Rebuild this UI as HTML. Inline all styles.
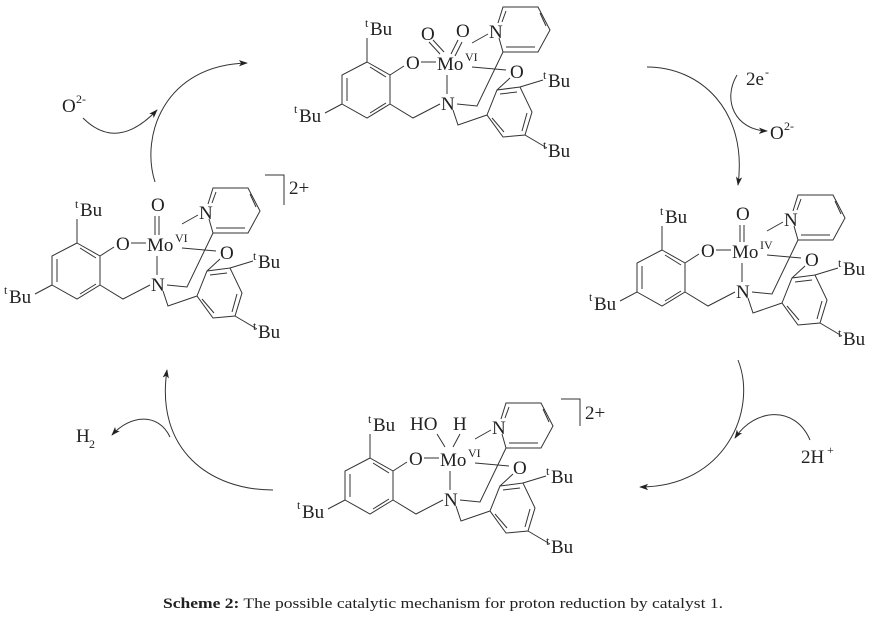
<!DOCTYPE html>
<html><head><meta charset="utf-8"><style>
html,body{margin:0;padding:0;background:#fff;width:882px;height:618px;overflow:hidden}
svg{display:block}
text{font-family:"Liberation Serif","Times New Roman",serif;fill:#222}
.a{font-size:19px}
.s{font-size:12px}
</style></head><body>
<svg width="882" height="618" viewBox="0 0 882 618" xmlns="http://www.w3.org/2000/svg" font-family="Liberation Serif, serif">
<defs>
<g id="sk" fill="none" stroke="#333" stroke-width="1">
<path d="M77,38 L77,62"/>
<path d="M77,62 L100,75 L100,104 L77,118 L52,104 L52,75 Z"/>
<path d="M57,78 L57,101 M80,67 L96,77 M80,113 L96,103"/>
<path d="M100,75 L114,66 M131,62 L146,62 M157,75 L157,94"/>
<path d="M100,104 L123,118 L150,104"/>
<path d="M167,104 L187,106 L213,52"/>
<path d="M163,110 L168,125 L197,115"/>
<path d="M197,115 L207,90 L230,87 L242,112 L235,135 L213,137 Z"/>
<path d="M202,118 L214,132 M210,94 L227,92 M237,113 L232,131"/>
<path d="M207,90 L220,78 M182,67 L216,70"/>
<path d="M230,87 L253,80 M235,135 L257,148 M52,104 L35,113"/>
<path d="M208,23 L213,7 L248,7 L260,30 L248,52 L213,52 L209,38"/>
<path d="M216,11 L212,22 M250,13 L256,26 M245,47 L216,47"/>
<path d="M182,43 L198,34"/>
</g>
<marker id="ah" viewBox="0 0 10 10" refX="9" refY="5" markerWidth="9" markerHeight="9" orient="auto" markerUnits="userSpaceOnUse"><path d="M0,1.5 L10,5 L0,8.5 L2.5,5 Z" fill="#222"/></marker>
</defs>

<!-- TOP -->
<g transform="translate(290,0)">
<use href="#sk"/>
<path d="M150,54 L139,42 M154,52 L143,40 M161,54 L168,40 M165,56 L172,42" stroke="#333" fill="none"/>
<text class="s" x="75" y="27">t</text><text class="a" x="80" y="35">Bu</text>
<text class="a" x="116" y="69">O</text>
<text class="a" x="147" y="70">Mo</text><text class="s" x="175" y="61">VI</text>
<text class="a" x="131" y="40">O</text><text class="a" x="166" y="37">O</text>
<text class="a" x="151" y="110">N</text>
<text class="a" x="199" y="38">N</text>
<text class="a" x="220" y="78">O</text>
<text class="s" x="253" y="79">t</text><text class="a" x="258" y="87">Bu</text>
<text class="s" x="253" y="149">t</text><text class="a" x="258" y="157">Bu</text>
<text class="s" x="4" y="113">t</text><text class="a" x="9" y="122">Bu</text>
</g>

<!-- RIGHT -->
<g transform="translate(585,188)">
<use href="#sk"/>
<path d="M155,37 L155,54 M159,37 L159,54" stroke="#333" fill="none"/>
<text class="s" x="75" y="27">t</text><text class="a" x="80" y="35">Bu</text>
<text class="a" x="116" y="69">O</text>
<text class="a" x="147" y="70">Mo</text><text class="s" x="175" y="61">IV</text>
<text class="a" x="151" y="32">O</text>
<text class="a" x="151" y="110">N</text>
<text class="a" x="199" y="38">N</text>
<text class="a" x="220" y="78">O</text>
<text class="s" x="253" y="79">t</text><text class="a" x="258" y="87">Bu</text>
<text class="s" x="253" y="149">t</text><text class="a" x="258" y="157">Bu</text>
<text class="s" x="4" y="113">t</text><text class="a" x="9" y="122">Bu</text>
</g>

<!-- LEFT -->
<g transform="translate(0,181)">
<use href="#sk"/>
<path d="M155,35 L155,54 M159,35 L159,54" stroke="#333" fill="none"/>
<text class="s" x="75" y="27">t</text><text class="a" x="80" y="35">Bu</text>
<text class="a" x="116" y="69">O</text>
<text class="a" x="147" y="70">Mo</text><text class="s" x="175" y="61">VI</text>
<text class="a" x="151" y="30">O</text>
<text class="a" x="151" y="110">N</text>
<text class="a" x="199" y="38">N</text>
<text class="a" x="220" y="78">O</text>
<text class="s" x="253" y="79">t</text><text class="a" x="258" y="87">Bu</text>
<text class="s" x="253" y="149">t</text><text class="a" x="258" y="157">Bu</text>
<text class="s" x="4" y="113">t</text><text class="a" x="9" y="122">Bu</text>
<path d="M265,-6 L284,-6 L284,24" stroke="#333" fill="none"/>
<text class="a" x="289" y="13">2+</text>
</g>

<!-- BOTTOM -->
<g transform="translate(293,396)">
<use href="#sk"/>
<path d="M144,38 L152,51 M167,38 L160,51" stroke="#333" fill="none"/>
<text class="s" x="75" y="27">t</text><text class="a" x="80" y="35">Bu</text>
<text class="a" x="116" y="69">O</text>
<text class="a" x="147" y="70">Mo</text><text class="s" x="175" y="61">VI</text>
<text class="a" x="117" y="34">HO</text>
<text class="a" x="160" y="34">H</text>
<text class="a" x="151" y="110">N</text>
<text class="a" x="199" y="38">N</text>
<text class="a" x="220" y="78">O</text>
<text class="s" x="253" y="79">t</text><text class="a" x="258" y="87">Bu</text>
<text class="s" x="253" y="149">t</text><text class="a" x="258" y="157">Bu</text>
<text class="s" x="4" y="113">t</text><text class="a" x="9" y="122">Bu</text>
<path d="M268,3 L287,3 L287,30" stroke="#333" fill="none"/>
<text class="a" x="292" y="23">2+</text>
</g>

<!-- arrows -->
<g fill="none" stroke="#333" stroke-width="1">
<path d="M155,182 C140,135 165,65 247,63" marker-end="url(#ah)"/>
<path d="M83,118 Q117,152 157,110" marker-end="url(#ah)"/>
<path d="M647,67 C700,67 748,110 738,185" marker-end="url(#ah)"/>
<path d="M737,75 C722,100 735,130 767,131" marker-end="url(#ah)"/>
<path d="M738,360 C758,410 725,487 640,487" marker-end="url(#ah)"/>
<path d="M810,440 C795,405 755,408 735,438" marker-end="url(#ah)"/>
<path d="M273,490 C210,490 155,450 167,370" marker-end="url(#ah)"/>
<path d="M170,437 C158,412 130,415 112,435" marker-end="url(#ah)"/>
</g>
<text class="a" x="62" y="112">O</text><text class="s" x="76" y="103">2-</text>
<text class="a" x="746" y="85">2e</text><text class="s" x="765" y="76">-</text>
<text class="a" x="770" y="139">O</text><text class="s" x="784" y="130">2-</text>
<text class="a" x="801" y="463">2H</text><text class="s" x="827" y="454">+</text>
<text class="a" x="76" y="442">H</text><text class="s" x="89" y="448">2</text>

<text x="163" y="608" font-size="14.5" textLength="560" lengthAdjust="spacingAndGlyphs"><tspan font-weight="bold">Scheme 2:</tspan> The possible catalytic mechanism for proton reduction by catalyst 1.</text>
</svg>
</body></html>
